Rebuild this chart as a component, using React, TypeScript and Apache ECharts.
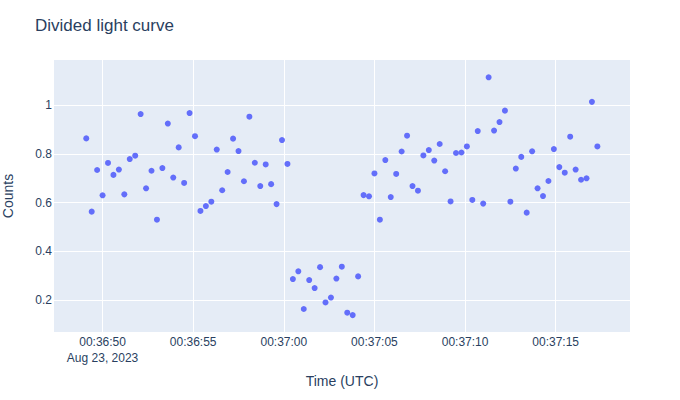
import React, { useEffect, useRef } from "react";
import * as echarts from "echarts";

// Seconds after 00:36:50 UTC, Aug 23, 2023
const times: number[] = [
  -0.9, -0.6, -0.3, 0, 0.3, 0.6, 0.9, 1.2, 1.5, 1.8, 2.1, 2.4, 2.7, 3.0, 3.3, 3.6, 3.9, 4.2, 4.5, 4.8,
  5.1, 5.4, 5.7, 6.0, 6.3, 6.6, 6.9, 7.2, 7.5, 7.8, 8.1, 8.4, 8.7, 9.0, 9.3, 9.6, 9.9, 10.2, 10.5, 10.8,
  11.1, 11.4, 11.7, 12.0, 12.3, 12.6, 12.9, 13.2, 13.5, 13.8, 14.1, 14.4, 14.7, 15.0, 15.3, 15.6, 15.9,
  16.2, 16.5, 16.8, 17.1, 17.4, 17.7, 18.0, 18.3, 18.6, 18.9, 19.2, 19.5, 19.8, 20.1, 20.4, 20.7, 21.0,
  21.3, 21.6, 21.9, 22.2, 22.5, 22.8, 23.1, 23.4, 23.7, 24.0, 24.3, 24.6, 24.9, 25.2, 25.5, 25.8, 26.1,
  26.4, 26.7, 27.0, 27.3,
];

const counts: number[] = [
  0.864, 0.563, 0.734, 0.63, 0.763, 0.714, 0.736, 0.634, 0.779, 0.793, 0.964, 0.659, 0.731, 0.53, 0.742,
  0.925, 0.703, 0.827, 0.681, 0.968, 0.873, 0.566, 0.586, 0.604, 0.818, 0.651, 0.726, 0.863, 0.812,
  0.688, 0.953, 0.764, 0.668, 0.757, 0.676, 0.594, 0.857, 0.759, 0.286, 0.318, 0.163, 0.282, 0.249,
  0.335, 0.19, 0.21, 0.288, 0.337, 0.148, 0.138, 0.297, 0.631, 0.626, 0.72, 0.53, 0.775, 0.623, 0.718,
  0.81, 0.875, 0.668, 0.649, 0.794, 0.816, 0.773, 0.841, 0.729, 0.605, 0.804, 0.806, 0.831, 0.611,
  0.894, 0.596, 1.115, 0.896, 0.931, 0.978, 0.604, 0.74, 0.788, 0.559, 0.811, 0.659, 0.627, 0.689,
  0.82, 0.746, 0.723, 0.871, 0.736, 0.694, 0.7, 1.014, 0.831,
];

const xTickValues: number[] = [0, 5, 10, 15, 20, 25];
const xTickLabels: string[] = ["00:36:50", "00:36:55", "00:37:00", "00:37:05", "00:37:10", "00:37:15"];
const xDateLabel = "Aug 23, 2023";
const yTickValues: number[] = [0.2, 0.4, 0.6, 0.8, 1];
const yTickLabels: string[] = ["0.2", "0.4", "0.6", "0.8", "1"];

const FONT = '"Liberation Sans", Arial, sans-serif';
const TEXT = "#2a3f5f";

export default function App() {
  const ref = useRef<HTMLDivElement>(null);
  useEffect(() => {
    if (!ref.current) return;
    const chart = echarts.init(ref.current, undefined, { renderer: "svg" });
    const data = times.map((t, i) => [t, counts[i]]);
    chart.setOption({
      animation: false,
      backgroundColor: "#ffffff",
      textStyle: { fontFamily: FONT },
      title: {
        text: "Divided light curve",
        left: 35,
        top: 17,
        padding: 0,
        textStyle: { fontFamily: FONT, fontSize: 17, fontWeight: "normal", color: TEXT },
      },
      grid: {
        left: 54,
        top: 60,
        width: 576,
        height: 272,
        show: true,
        backgroundColor: "#E5ECF6",
        borderWidth: 0,
        containLabel: false,
        outerBoundsMode: "none",
      },
      xAxis: {
        type: "value",
        min: -2.68,
        max: 29.1,
        name: "Time (UTC)",
        nameLocation: "middle",
        nameGap: 42,
        nameTextStyle: { fontFamily: FONT, fontSize: 14, color: TEXT },
        axisLine: { show: false },
        axisTick: { show: false, customValues: xTickValues },
        splitLine: { show: true, lineStyle: { color: "#ffffff", width: 1 } },
        axisLabel: {
          customValues: xTickValues,
          margin: 2,
          fontFamily: FONT,
          fontSize: 12,
          color: TEXT,
          lineHeight: 16,
          formatter: (v: number) => {
            const idx = xTickValues.findIndex((x) => Math.abs(x - v) < 1e-6);
            const lab = idx >= 0 ? xTickLabels[idx] : "";
            return idx === 0 ? lab + "\n" + xDateLabel : lab;
          },
        },
      },
      yAxis: {
        type: "value",
        min: 0.0686,
        max: 1.186,
        name: "Counts",
        nameLocation: "middle",
        nameGap: 39,
        nameTextStyle: { fontFamily: FONT, fontSize: 14, color: TEXT },
        axisLine: { show: false },
        axisTick: { show: false, customValues: yTickValues },
        splitLine: { show: true, lineStyle: { color: "#ffffff", width: 1 } },
        axisLabel: {
          customValues: yTickValues,
          margin: 2,
          fontFamily: FONT,
          fontSize: 12,
          color: TEXT,
          formatter: (v: number) => {
            const idx = yTickValues.findIndex((y) => Math.abs(y - v) < 1e-6);
            return idx >= 0 ? yTickLabels[idx] : "";
          },
        },
      },
      series: [
        {
          type: "scatter",
          data,
          symbol: "circle",
          symbolSize: 6,
          itemStyle: { color: "#636efa", opacity: 1 },
          emphasis: { disabled: true },
        },
      ],
    });
    return () => chart.dispose();
  }, []);
  return (
    <div
      ref={ref}
      style={{ position: "fixed", left: 0, top: 0, width: 680, height: 400 }}
    />
  );
}
